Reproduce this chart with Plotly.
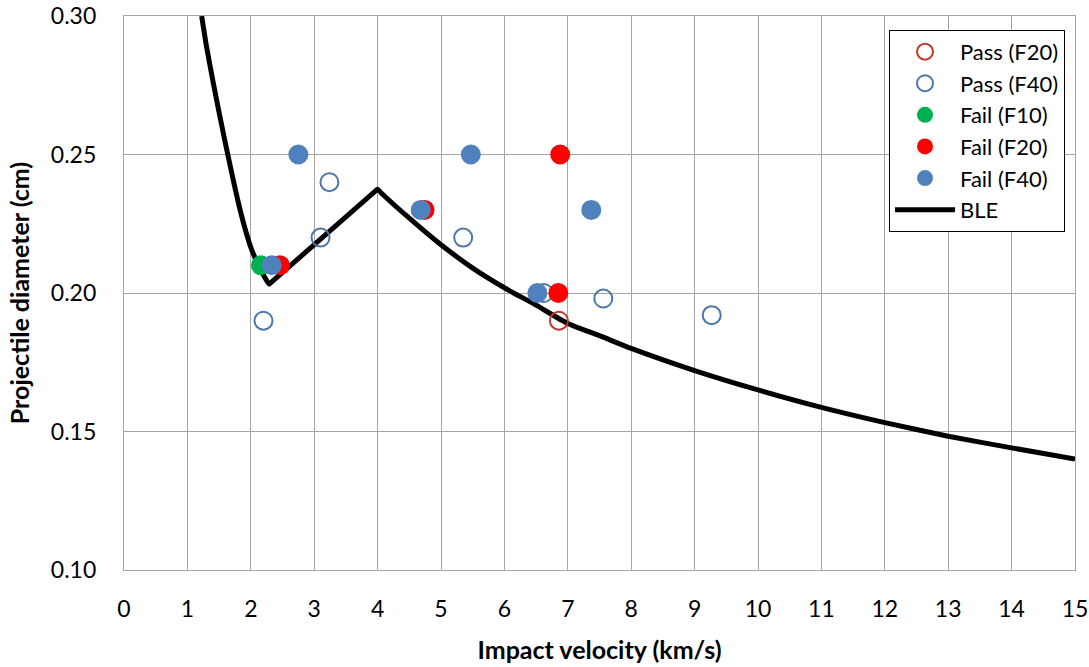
import plotly.graph_objects as go

# ---- data ----
pass_f20_x = [6.86]
pass_f20_y = [0.190]

pass_f40_x = [2.20, 3.10, 3.24, 5.35, 6.62, 7.56, 9.27]
pass_f40_y = [0.190, 0.220, 0.240, 0.220, 0.200, 0.198, 0.192]

fail_f10_x = [2.16]
fail_f10_y = [0.210]

fail_f20_x = [2.46, 4.74, 6.85, 6.88]
fail_f20_y = [0.210, 0.230, 0.200, 0.250]

fail_f40_x = [2.33, 2.75, 4.68, 5.47, 6.52, 7.37]
fail_f40_y = [0.210, 0.250, 0.230, 0.250, 0.200, 0.230]

ble_x = [1.225, 1.30, 1.40, 1.50, 1.60, 1.70, 1.80, 1.90, 2.00, 2.10, 2.20, 2.29,
         2.33, 3.95, 4.00, 4.05, 4.50, 5.00, 5.50, 6.00, 6.50, 7.00, 7.50, 8.00, 9.00,
         10.0, 11.0, 12.0, 13.0, 14.0, 15.0]
ble_y = [0.300, 0.2892, 0.2768, 0.2652, 0.2540, 0.2432, 0.2330, 0.2240, 0.2165, 0.2110, 0.2065, 0.2032,
         0.2040, 0.2365, 0.2375, 0.2363, 0.2270, 0.2174, 0.2090, 0.2019, 0.1956, 0.1890, 0.1846, 0.1800, 0.1720,
         0.1650, 0.1587, 0.1532, 0.1483, 0.1441, 0.1401]

x_ticks = list(range(0, 16))
y_ticks = [0.10, 0.15, 0.20, 0.25, 0.30]

FONT = "Lato"
GRID = "#a6a6a6"

fig = go.Figure()

# BLE first so markers sit on top of the line
fig.add_trace(go.Scatter(x=ble_x, y=ble_y, mode="lines", name="BLE",
                         line=dict(color="black", width=5, shape="spline", smoothing=0.6),
                         legendrank=6, legendgroup="g6"))
fig.add_trace(go.Scatter(x=pass_f20_x, y=pass_f20_y, mode="markers", name="Pass (F20)",
                         marker=dict(size=18, color="rgba(0,0,0,0)",
                                     line=dict(color="#c0392b", width=2)),
                         legendrank=1, legendgroup="g1"))
fig.add_trace(go.Scatter(x=pass_f40_x, y=pass_f40_y, mode="markers", name="Pass (F40)",
                         marker=dict(size=18, color="rgba(0,0,0,0)",
                                     line=dict(color="#4a76a8", width=2)),
                         legendrank=2, legendgroup="g2"))
fig.add_trace(go.Scatter(x=fail_f10_x, y=fail_f10_y, mode="markers", name="Fail (F10)",
                         marker=dict(size=20, color="#00b050", line=dict(width=0)),
                         legendrank=3, legendgroup="g3"))
fig.add_trace(go.Scatter(x=fail_f20_x, y=fail_f20_y, mode="markers", name="Fail (F20)",
                         marker=dict(size=20, color="#ff0000", line=dict(width=0)),
                         legendrank=4, legendgroup="g4"))
fig.add_trace(go.Scatter(x=fail_f40_x, y=fail_f40_y, mode="markers", name="Fail (F40)",
                         marker=dict(size=20, color="#4f81bd", line=dict(width=0)),
                         legendrank=5, legendgroup="g5"))

fig.update_layout(
    width=1089, height=667,
    margin=dict(l=124, r=14, t=16, b=97),
    paper_bgcolor="white", plot_bgcolor="white",
    font=dict(family=FONT, size=23, color="#000000"),
    showlegend=True,
    legend=dict(x=0.9895, y=0.975, xanchor="right", yanchor="top",
                bgcolor="white", bordercolor="black", borderwidth=1,
                font=dict(family=FONT, size=22, color="#000000"),
                traceorder="grouped", tracegroupgap=0, itemwidth=60),
    xaxis=dict(range=[0, 15], tickvals=x_ticks, ticktext=[str(v) for v in x_ticks],
               showgrid=True, gridcolor=GRID, gridwidth=1.3,
               showline=True, linecolor=GRID, linewidth=1.3, mirror=True,
               ticks="", ticklabelstandoff=18, zeroline=False, automargin=False,
               ticklabeloverflow="allow",
               tickfont=dict(family=FONT, size=23),
               title=dict(text="<b>Impact velocity (km/s)</b>", standoff=20,
                          font=dict(family=FONT, size=25))),
    yaxis=dict(range=[0.10, 0.30], tickvals=y_ticks,
               ticktext=[f"{v:.2f}" for v in y_ticks],
               showgrid=True, gridcolor=GRID, gridwidth=1.3,
               showline=True, linecolor=GRID, linewidth=1.3, mirror=True,
               ticks="", ticklabelstandoff=22, zeroline=False, automargin=False,
               ticklabeloverflow="allow",
               tickfont=dict(family=FONT, size=23),
               title=dict(text="<b>Projectile diameter (cm)</b>", standoff=14,
                          font=dict(family=FONT, size=25))),
)

fig.write_html("out.html")
